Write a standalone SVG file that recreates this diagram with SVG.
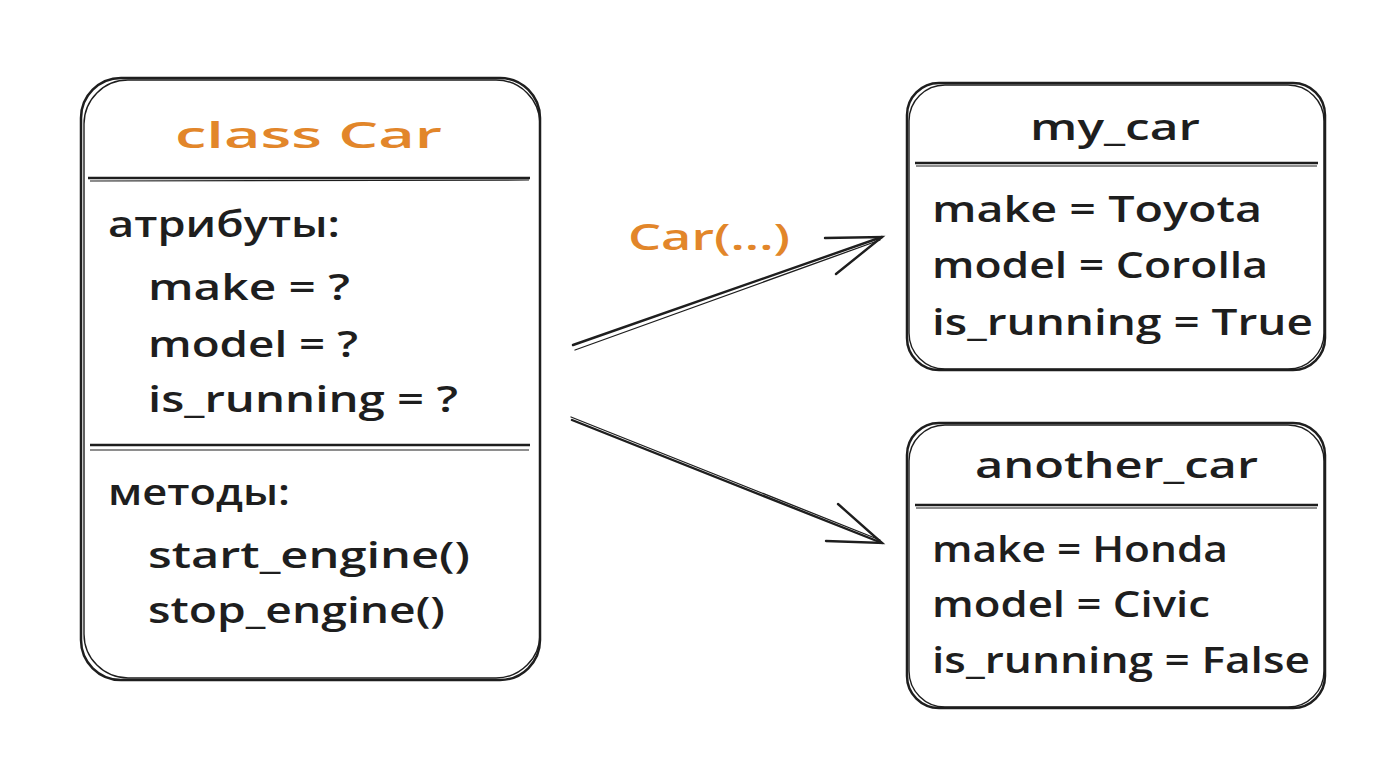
<svg xmlns="http://www.w3.org/2000/svg" width="1376" height="768" viewBox="0 0 1376 768">
<defs>
<style>
.box{fill:none;stroke:#1e1e1e;stroke-width:2.5;stroke-linejoin:round}
.box2{fill:none;stroke:#1e1e1e;stroke-width:1.4}
.div{stroke:#1e1e1e;stroke-width:2.4;fill:none}
.div2{stroke:#1e1e1e;stroke-width:1.2;fill:none}
.t{font-family:"Open Sans","Liberation Sans",sans-serif;font-size:36px;font-weight:600;fill:#1e1e1e}
.o{fill:#e2862a}
.c{text-anchor:middle}
.arr{stroke:#1e1e1e;stroke-width:2.4;fill:none;stroke-linecap:round}
.arr2{stroke:#1e1e1e;stroke-width:1.3;fill:none;stroke-linecap:round}
</style>
</defs>
<rect width="1376" height="768" fill="#ffffff"/>

<g id="class-car">
<rect class="box" x="81" y="78" width="459" height="602" rx="40"/>
<rect class="box2" x="84" y="80" width="456" height="598" rx="44"/>
<line class="div" x1="88" y1="178" x2="530" y2="178"/>
<line class="div2" x1="90" y1="181" x2="529" y2="180"/>
<line class="div" x1="90" y1="445" x2="530" y2="445"/>
<line class="div2" x1="90" y1="450" x2="529" y2="450"/>
<text class="t o" x="175" y="148" font-size="46" textLength="267" lengthAdjust="spacingAndGlyphs">class Car</text>
<text class="t" x="108" y="237" textLength="232" lengthAdjust="spacingAndGlyphs">атрибуты:</text>
<text class="t" x="148" y="300" textLength="202" lengthAdjust="spacingAndGlyphs">make = ?</text>
<text class="t" x="148" y="357" textLength="210" lengthAdjust="spacingAndGlyphs">model = ?</text>
<text class="t" x="148" y="412" textLength="310" lengthAdjust="spacingAndGlyphs">is_running = ?</text>
<text class="t" x="108" y="505" textLength="182" lengthAdjust="spacingAndGlyphs">методы:</text>
<text class="t" x="148" y="568" textLength="322" lengthAdjust="spacingAndGlyphs">start_engine()</text>
<text class="t" x="148" y="623" textLength="297" lengthAdjust="spacingAndGlyphs">stop_engine()</text>
</g>

<g id="my-car">
<rect class="box" x="907" y="83" width="418" height="287" rx="32"/>
<rect class="box2" x="909" y="85" width="415" height="284" rx="36"/>
<line class="div" x1="915" y1="163" x2="1318" y2="163"/>
<line class="div2" x1="916" y1="166" x2="1317" y2="166"/>
<text class="t" x="1030" y="140" textLength="170" lengthAdjust="spacingAndGlyphs">my_car</text>
<text class="t" x="932" y="222" textLength="330" lengthAdjust="spacingAndGlyphs">make = Toyota</text>
<text class="t" x="932" y="278" textLength="336" lengthAdjust="spacingAndGlyphs">model = Corolla</text>
<text class="t" x="932" y="335" textLength="381" lengthAdjust="spacingAndGlyphs">is_running = True</text>
</g>

<g id="another-car">
<rect class="box" x="907" y="423" width="418" height="285" rx="32"/>
<rect class="box2" x="909" y="425" width="415" height="282" rx="36"/>
<line class="div" x1="915" y1="505" x2="1318" y2="505"/>
<line class="div2" x1="916" y1="508" x2="1317" y2="508"/>
<text class="t" x="975" y="478" textLength="283" lengthAdjust="spacingAndGlyphs">another_car</text>
<text class="t" x="932" y="562" textLength="296" lengthAdjust="spacingAndGlyphs">make = Honda</text>
<text class="t" x="932" y="617" textLength="278" lengthAdjust="spacingAndGlyphs">model = Civic</text>
<text class="t" x="932" y="673" textLength="378" lengthAdjust="spacingAndGlyphs">is_running = False</text>
</g>

<g id="connectors">
<line class="arr" x1="573" y1="345" x2="882" y2="237"/>
<line class="arr2" x1="575" y1="350" x2="880" y2="240"/>
<polyline class="arr" points="825,238 882,237 836,274"/>
<line class="arr" x1="572" y1="420" x2="882" y2="543"/>
<line class="arr2" x1="571" y1="417" x2="880" y2="540"/>
<polyline class="arr" points="838,504 882,543 826,541"/>
<text class="t o" x="628" y="250" textLength="162" lengthAdjust="spacingAndGlyphs">Car(...)</text>
</g>
</svg>
